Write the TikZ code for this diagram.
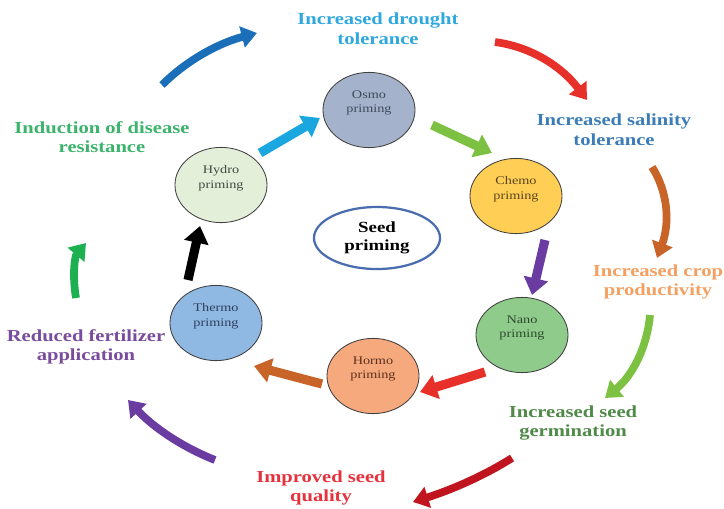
\documentclass[tikz,border=0pt]{standalone}
\usepackage{fontspec}
\setmainfont{Liberation Serif}[FakeStretch=1.22]
\usetikzlibrary{shapes.geometric,arrows.meta}
\definecolor{osmofill}{HTML}{A4B3CB}
\definecolor{hydrofill}{HTML}{E3EFD9}
\definecolor{chemofill}{HTML}{FFCE55}
\definecolor{thermofill}{HTML}{8FB8E2}
\definecolor{hormofill}{HTML}{F5A97C}
\definecolor{nanofill}{HTML}{8FCB8A}
\definecolor{osmotext}{HTML}{3F4A5C}
\definecolor{hydrotext}{HTML}{404A40}
\definecolor{chemotext}{HTML}{5A4520}
\definecolor{thermotext}{HTML}{2E3F5E}
\definecolor{hormotext}{HTML}{5C3020}
\definecolor{nanotext}{HTML}{2E4A2E}
\definecolor{seedline}{HTML}{4A6DB0}
\definecolor{droughtcol}{HTML}{2FA8DF}
\definecolor{salinitycol}{HTML}{3C7DB8}
\definecolor{cropcol}{HTML}{F3A062}
\definecolor{germcol}{HTML}{4F8A48}
\definecolor{qualitycol}{HTML}{E5323D}
\definecolor{fertcol}{HTML}{7A4C9E}
\definecolor{diseasecol}{HTML}{3BB36B}
\definecolor{arcyan}{HTML}{1AA7E0}
\definecolor{argreen}{HTML}{7CC142}
\definecolor{arpurple}{HTML}{6A3BA0}
\definecolor{arred}{HTML}{E8302A}
\definecolor{arbrown}{HTML}{C86428}
\definecolor{arblue}{HTML}{1A6FB8}
\definecolor{ardarkred}{HTML}{C0141E}
\definecolor{arleaf}{HTML}{1DB050}
\begin{document}
\begin{tikzpicture}[x=0.025cm,y=-0.025cm,
	primcircle/.style={ellipse,draw=black!75,line width=0.6pt,minimum width=2.3cm,minimum height=1.88cm,inner sep=0pt},
	primtext/.style={align=center,font=\fontsize{8.3}{10.5}\selectfont,yshift=5pt},
	benefit/.style={align=center,font=\bfseries\fontsize{12}{14}\selectfont},
	innerarrow/.style={line width=6.5pt,-{Triangle[length=12pt,width=17pt]}},
	outerarrow/.style={line width=5.5pt,-{Triangle[length=11pt,width=15pt]}}]
	\useasboundingbox (0,0) rectangle (724,508);
	% priming methods
	\node[primcircle,fill=osmofill,label={[primtext,text=osmotext,name=osmo-t]center:Osmo\\priming}] (osmo) at (369,110) {};
	\node[primcircle,fill=hydrofill,label={[primtext,text=hydrotext,name=hydro-t]center:Hydro\\priming}] (hydro) at (221,185) {};
	\node[primcircle,fill=chemofill,label={[primtext,text=chemotext,name=chemo-t]center:Chemo\\priming}] (chemo) at (516,196) {};
	\node[primcircle,fill=thermofill,label={[primtext,text=thermotext,name=thermo-t]center:Thermo\\priming}] (thermo) at (216,323) {};
	\node[primcircle,fill=hormofill,label={[primtext,text=hormotext,name=hormo-t]center:Hormo\\priming}] (hormo) at (373,376) {};
	\node[primcircle,fill=nanofill,label={[primtext,text=nanotext,name=nano-t]center:Nano\\priming}] (nano) at (522,335) {};
	\node[ellipse,draw=seedline,line width=1.6pt,minimum width=3.15cm,minimum height=1.55cm,align=center,font=\bfseries\fontsize{11}{13}\selectfont] (seed) at (377,238) {Seed\\priming};
	% benefits
	\node[benefit,text=droughtcol] (drought) at (378,29) {Increased drought\\tolerance};
	\node[benefit,text=salinitycol] (salinity) at (614,130) {Increased salinity\\tolerance};
	\node[benefit,text=cropcol] (crop) at (658,282) {Increased crop\\productivity};
	\node[benefit,text=germcol] (germ) at (573,423) {Increased seed\\germination};
	\node[benefit,text=qualitycol] (quality) at (321,488) {Improved seed\\quality};
	\node[benefit,text=fertcol] (fert) at (86,347) {Reduced fertilizer\\application};
	\node[benefit,text=diseasecol] (disease) at (102,137) {Induction of disease\\resistance};
	% inner cycle
	\draw[innerarrow,arcyan] ([shift={(39,-32)}]hydro.center) -- ([shift={(-49,8)}]osmo.center);
	\draw[innerarrow,argreen] ([shift={(63,15)}]osmo.center) -- ([shift={(-24,-43)}]chemo.center);
	\draw[innerarrow,arpurple] ([shift={(29,44)}]chemo.center) -- ([shift={(10,-40)}]nano.center);
	\draw[innerarrow,arred] ([shift={(-37,37)}]nano.center) -- ([shift={(47,16)}]hormo.center);
	\draw[innerarrow,arbrown] ([shift={(-51,8)}]hormo.center) -- ([shift={(38,43)}]thermo.center);
	\draw[innerarrow,black] ([shift={(-28,-43)}]thermo.center) -- ([shift={(-21,41)}]hydro.center);
	% outer cycle
	\draw[outerarrow,arblue] ([shift={(60,-52)}]disease.center) .. controls (187,60) and (219,43) .. ([shift={(-121,4)}]drought.center);
	\draw[outerarrow,arred] ([shift={(117,13)}]drought.center) .. controls (532,47) and (562,67) .. ([shift={(-27,-30)}]salinity.center);
	\draw[outerarrow,arbrown] ([shift={(38,37)}]salinity.center) .. controls (668,192) and (670,223) .. ([shift={(-1,-24)}]crop.center);
	\draw[outerarrow,argreen] ([shift={(-8,33)}]crop.center) .. controls (647,348) and (632,376) .. ([shift={(32,-25)}]germ.center);
	\draw[outerarrow,ardarkred] ([shift={(-61,35)}]germ.center) .. controls (487,474) and (454,489) .. ([shift={(92,14)}]quality.center);
	\draw[outerarrow,arpurple] ([shift={(-106,-28)}]quality.center) .. controls (182,447) and (153,427) .. ([shift={(42,53)}]fert.center);
	\draw[outerarrow,arleaf] ([shift={(-10,-49)}]fert.center) .. controls (72,274) and (75,256) .. ([shift={(-16,106)}]disease.center);
\end{tikzpicture}
\end{document}
